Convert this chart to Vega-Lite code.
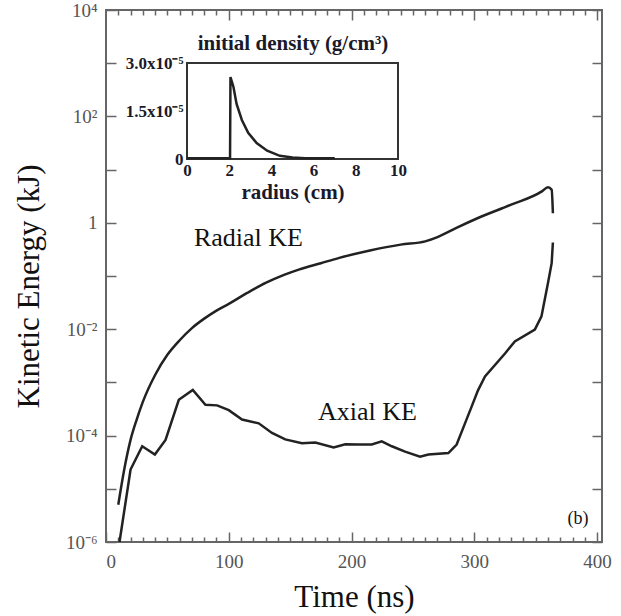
{
  "$schema": "https://vega.github.io/schema/vega-lite/v6.json",
  "width": 496,
  "height": 532,
  "autosize": {"type": "none"},
  "padding": {"left": 106, "top": 10, "right": 19, "bottom": 74},
  "background": "white",
  "config": {
    "view": {"stroke": "#666", "strokeWidth": 2},
    "axis": {"grid": false, "domain": false, "labelFont": "Liberation Serif", "titleFont": "Liberation Serif", "tickColor": "#666", "tickWidth": 1.5},
    "text": {"font": "Liberation Serif"}
  },
  "datasets": {
    "ke": [
      {"t": 10, "ke": 5.0e-6, "series": "Radial"},
      {"t": 15, "ke": 2.4e-5, "series": "Radial"},
      {"t": 20, "ke": 8.3e-5, "series": "Radial"},
      {"t": 25, "ke": 2.0e-4, "series": "Radial"},
      {"t": 30, "ke": 4.3e-4, "series": "Radial"},
      {"t": 40, "ke": 1.38e-3, "series": "Radial"},
      {"t": 50, "ke": 3.3e-3, "series": "Radial"},
      {"t": 60, "ke": 6.2e-3, "series": "Radial"},
      {"t": 70, "ke": 1.05e-2, "series": "Radial"},
      {"t": 80, "ke": 1.58e-2, "series": "Radial"},
      {"t": 90, "ke": 2.24e-2, "series": "Radial"},
      {"t": 100, "ke": 3.0e-2, "series": "Radial"},
      {"t": 115, "ke": 4.8e-2, "series": "Radial"},
      {"t": 130, "ke": 7.4e-2, "series": "Radial"},
      {"t": 145, "ke": 0.105, "series": "Radial"},
      {"t": 157, "ke": 0.132, "series": "Radial"},
      {"t": 175, "ke": 0.174, "series": "Radial"},
      {"t": 190, "ke": 0.219, "series": "Radial"},
      {"t": 215, "ke": 0.302, "series": "Radial"},
      {"t": 240, "ke": 0.389, "series": "Radial"},
      {"t": 260, "ke": 0.447, "series": "Radial"},
      {"t": 270, "ke": 0.537, "series": "Radial"},
      {"t": 285, "ke": 0.794, "series": "Radial"},
      {"t": 303, "ke": 1.23, "series": "Radial"},
      {"t": 330, "ke": 2.19, "series": "Radial"},
      {"t": 355, "ke": 3.89, "series": "Radial"},
      {"t": 360, "ke": 4.68, "series": "Radial"},
      {"t": 363, "ke": 4.17, "series": "Radial"},
      {"t": 364, "ke": 1.51, "series": "Radial"},
      {"t": 11, "ke": 1.0e-6, "series": "Axial"},
      {"t": 20, "ke": 2.3e-5, "series": "Axial"},
      {"t": 29.5, "ke": 6.3e-5, "series": "Axial"},
      {"t": 39.8, "ke": 4.4e-5, "series": "Axial"},
      {"t": 48.5, "ke": 8.3e-5, "series": "Axial"},
      {"t": 59.3, "ke": 4.7e-4, "series": "Axial"},
      {"t": 70.7, "ke": 7.2e-4, "series": "Axial"},
      {"t": 81, "ke": 3.8e-4, "series": "Axial"},
      {"t": 90.5, "ke": 3.7e-4, "series": "Axial"},
      {"t": 100, "ke": 3.0e-4, "series": "Axial"},
      {"t": 110.8, "ke": 2.0e-4, "series": "Axial"},
      {"t": 124.4, "ke": 1.7e-4, "series": "Axial"},
      {"t": 135.2, "ke": 1.12e-4, "series": "Axial"},
      {"t": 146, "ke": 8.5e-5, "series": "Axial"},
      {"t": 159.6, "ke": 7.2e-5, "series": "Axial"},
      {"t": 170.5, "ke": 7.4e-5, "series": "Axial"},
      {"t": 185.4, "ke": 6.0e-5, "series": "Axial"},
      {"t": 194.9, "ke": 6.9e-5, "series": "Axial"},
      {"t": 205.7, "ke": 6.8e-5, "series": "Axial"},
      {"t": 216.5, "ke": 6.8e-5, "series": "Axial"},
      {"t": 224.6, "ke": 7.8e-5, "series": "Axial"},
      {"t": 232.8, "ke": 6.3e-5, "series": "Axial"},
      {"t": 243.6, "ke": 5.0e-5, "series": "Axial"},
      {"t": 255.8, "ke": 4.0e-5, "series": "Axial"},
      {"t": 262.6, "ke": 4.4e-5, "series": "Axial"},
      {"t": 278.9, "ke": 4.7e-5, "series": "Axial"},
      {"t": 285.6, "ke": 6.8e-5, "series": "Axial"},
      {"t": 292.4, "ke": 1.7e-4, "series": "Axial"},
      {"t": 297.8, "ke": 3.5e-4, "series": "Axial"},
      {"t": 303, "ke": 7.1e-4, "series": "Axial"},
      {"t": 308.7, "ke": 1.29e-3, "series": "Axial"},
      {"t": 325, "ke": 3.5e-3, "series": "Axial"},
      {"t": 333, "ke": 5.9e-3, "series": "Axial"},
      {"t": 349.3, "ke": 9.8e-3, "series": "Axial"},
      {"t": 354.7, "ke": 1.74e-2, "series": "Axial"},
      {"t": 360, "ke": 7.4e-2, "series": "Axial"},
      {"t": 363, "ke": 0.174, "series": "Axial"},
      {"t": 364, "ke": 0.427, "series": "Axial"}
    ],
    "labels": [
      {"t": 116, "ke": 0.52, "label": "Radial KE", "size": 26},
      {"t": 213, "ke": 2.8e-4, "label": "Axial KE", "size": 26},
      {"t": 384.5, "ke": 2.75e-6, "label": "(b)", "size": 18}
    ],
    "density": [
      {"r": 0, "rho": 2e-7},
      {"r": 2.04, "rho": 2e-7},
      {"r": 2.06, "rho": 2.56e-5},
      {"r": 2.2, "rho": 2.26e-5},
      {"r": 2.35, "rho": 1.72e-5},
      {"r": 2.6, "rho": 1.22e-5},
      {"r": 2.9, "rho": 8.2e-6},
      {"r": 3.3, "rho": 5.0e-6},
      {"r": 3.8, "rho": 2.6e-6},
      {"r": 4.4, "rho": 1.0e-6},
      {"r": 5.0, "rho": 4.5e-7},
      {"r": 5.6, "rho": 2.5e-7},
      {"r": 7.0, "rho": 2e-7}
    ],
    "frame": [{"x0": 0, "x1": 10, "y0": 0, "y1": 3e-5}]
  },
  "layer": [
    {
      "layer": [
        {
          "data": {"name": "ke"},
          "transform": [{"filter": "datum.series == 'Radial'"}],
          "mark": {"type": "line", "stroke": "#222", "strokeWidth": 2.5, "interpolate": "monotone"},
          "encoding": {
            "x": {"field": "t", "type": "quantitative",
              "scale": {"domain": [0, 404], "nice": false, "zero": false},
              "axis": {"orient": "bottom", "values": [0, 100, 200, 300, 400], "tickSize": -10, "labelPadding": 20,
                "labelFontSize": 19, "labelColor": "#555", "title": "Time (ns)", "titleFontSize": 31, "titleFontWeight": "normal", "titleColor": "#111", "titlePadding": 11}},
            "y": {"field": "ke", "type": "quantitative",
              "scale": {"type": "log", "domain": [1e-6, 10000], "nice": false},
              "axis": {"orient": "left", "values": [1e-6, 1e-5, 1e-4, 1e-3, 1e-2, 1e-1, 1, 10, 100, 1000, 10000],
                "tickSize": -10, "labelPadding": 19, "labelFontSize": 19, "labelColor": "#555",
                "labelExpr": "datum.value > 5000 ? '10⁴' : (datum.value > 50 && datum.value < 500) ? '10²' : (datum.value > 0.5 && datum.value < 5) ? '1' : (datum.value > 0.005 && datum.value < 0.05) ? '10⁻²' : (datum.value > 0.00005 && datum.value < 0.0005) ? '10⁻⁴' : (datum.value < 0.000005) ? '10⁻⁶' : ''",
                "title": "Kinetic Energy (kJ)", "titleFontSize": 31, "titleFontWeight": "normal", "titleColor": "#111", "titlePadding": 20, "titleY": 276}}
          }
        },
        {
          "data": {"name": "ke"},
          "transform": [{"filter": "datum.series == 'Axial'"}],
          "mark": {"type": "line", "stroke": "#222", "strokeWidth": 2.5},
          "encoding": {
            "x": {"field": "t", "type": "quantitative", "axis": null},
            "y": {"field": "ke", "type": "quantitative", "axis": null}
          }
        },
        {
          "data": {"name": "ke"},
          "mark": {"type": "point", "opacity": 0},
          "encoding": {
            "x": {"field": "t", "type": "quantitative",
              "axis": {"orient": "bottom", "values": [10,20,30,40,50,60,70,80,90,110,120,130,140,150,160,170,180,190,210,220,230,240,250,260,270,280,290,310,320,330,340,350,360,370,380,390],
                "tickSize": -5, "labels": false, "title": null}},
            "y": {"field": "ke", "type": "quantitative",
              "axis": {"orient": "right", "values": [1e-6, 1e-5, 1e-4, 1e-3, 1e-2, 1e-1, 1, 10, 100, 1000, 10000], "tickSize": -10, "labels": false, "title": null}}
          }
        },
        {
          "data": {"name": "ke"},
          "mark": {"type": "point", "opacity": 0},
          "encoding": {
            "x": {"field": "t", "type": "quantitative",
              "axis": {"orient": "top", "values": [100, 200, 300, 400], "tickSize": -10, "labels": false, "title": null}},
            "y": {"field": "ke", "type": "quantitative", "axis": null}
          }
        },
        {
          "data": {"name": "ke"},
          "mark": {"type": "point", "opacity": 0},
          "encoding": {
            "x": {"field": "t", "type": "quantitative",
              "axis": {"orient": "top", "values": [10,20,30,40,50,60,70,80,90,110,120,130,140,150,160,170,180,190,210,220,230,240,250,260,270,280,290,310,320,330,340,350,360,370,380,390],
                "tickSize": -5, "labels": false, "title": null}},
            "y": {"field": "ke", "type": "quantitative", "axis": null}
          }
        },
        {
          "data": {"name": "labels"},
          "mark": {"type": "text", "color": "#111"},
          "encoding": {
            "x": {"field": "t", "type": "quantitative", "axis": null},
            "y": {"field": "ke", "type": "quantitative", "axis": null},
            "text": {"field": "label"},
            "size": {"field": "size", "type": "quantitative", "scale": null}
          }
        }
      ],
      "resolve": {"axis": {"x": "independent", "y": "independent"}}
    },
    {
      "layer": [
        {
          "data": {"name": "frame"},
          "mark": {"type": "rect", "fill": "white", "stroke": "#333", "strokeWidth": 2},
          "encoding": {
            "x": {"field": "x0", "type": "quantitative",
              "scale": {"domain": [0, 10], "range": [81, 292], "nice": false, "zero": false},
              "axis": {"orient": "top", "offset": -53, "labels": false, "ticks": false, "title": "initial density (g/cm³)",
                "titleFontSize": 21, "titleFontWeight": "bold", "titleColor": "#1a1a2a", "titlePadding": 10}},
            "x2": {"field": "x1"},
            "y": {"field": "y0", "type": "quantitative",
              "scale": {"domain": [0, 3e-5], "range": [149, 53], "nice": false, "zero": false},
              "axis": null},
            "y2": {"field": "y1"}
          }
        },
        {
          "data": {"name": "density"},
          "mark": {"type": "line", "stroke": "#222", "strokeWidth": 2.5},
          "encoding": {
            "x": {"field": "r", "type": "quantitative",
              "axis": {"orient": "bottom", "offset": -383, "values": [0, 2, 4, 6, 8, 10], "ticks": false, "labelPadding": 3,
                "labelFontSize": 17, "labelFontWeight": "bold", "labelColor": "#1a1a2a", "labelFlush": false,
                "title": "radius (cm)", "titleFontSize": 21, "titleFontWeight": "bold", "titleColor": "#1a1a2a", "titlePadding": 3}},
            "y": {"field": "rho", "type": "quantitative",
              "axis": {"orient": "left", "offset": -81, "values": [0, 1.5e-5, 3e-5], "ticks": false, "labelPadding": 4,
                "labelFontSize": 17, "labelFontWeight": "bold", "labelColor": "#1a1a2a", "labelFlush": false,
                "labelExpr": "datum.value == 0 ? '0' : datum.value < 2e-5 ? '1.5x10⁻⁵' : '3.0x10⁻⁵'", "title": null}}
          }
        }
      ],
      "resolve": {"axis": {"x": "independent", "y": "independent"}}
    }
  ],
  "resolve": {"scale": {"x": "independent", "y": "independent"}, "axis": {"x": "independent", "y": "independent"}}
}
